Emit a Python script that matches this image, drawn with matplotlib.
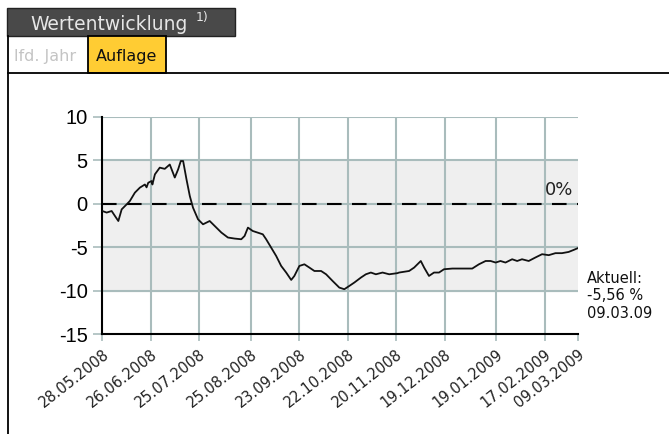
import numpy as np
import pandas as pd
import matplotlib
matplotlib.use("Agg")
import matplotlib.pyplot as plt
from matplotlib.patches import Rectangle

# performance since launch (%); x = days after 28.05.2008
start = pd.Timestamp("2008-05-28")
day_offsets = [0, 2.6, 5.6, 7.6, 9.6, 11.6, 14.6, 16.5, 19.5, 22.5, 25.5, 26.5, 27.5, 29.5, 30,
               31.5, 34.4, 37.4, 40.4, 43.4, 45.4, 47, 48.4, 50.4, 52.4, 54.3, 57.3, 60.3, 64.3,
               67.3, 71.3, 75.2, 79.2, 83.2, 85.2, 87.2, 90.1, 96.1, 98.1, 101.1, 104.1, 107.1,
               110.1, 113.1, 115, 118, 121, 124, 127, 131, 134, 137.9, 141.9, 144.9, 147.9, 150.9,
               154.9, 157.8, 160.8, 163.8, 167.8, 171.8, 176.7, 177.7, 183.7, 186.7, 190.7, 192.7,
               195.6, 198.6, 201.6, 204.6, 209.6, 215.5, 221.5, 225.5, 229.5, 232.5, 235.5, 238.4,
               241.4, 245.4, 248.4, 251.3, 255.3, 259.3, 263.3, 267.3, 271.3, 275.2, 279.2, 282.2, 285]
values = [-0.85, -1.03, -0.85, -1.43, -2.0, -0.66, -0.08, 0.3, 1.26, 1.84, 2.2, 1.87, 2.4, 2.6, 2.2,
          3.37, 4.14, 4.0, 4.5, 3.0, 3.94, 4.9, 4.9, 2.8, 0.87, -0.46, -1.8, -2.38, -2.0,
          -2.57, -3.33, -3.9, -4.02, -4.1, -3.72, -2.76, -3.15, -3.53, -4.1, -5.06, -6.02, -7.17,
          -7.93, -8.78, -8.32, -7.17, -6.98, -7.36, -7.75, -7.75, -8.13, -8.9, -9.66, -9.85, -9.47, -9.08,
          -8.5, -8.13, -7.93, -8.13, -7.93, -8.13, -8.0, -7.93, -7.75, -7.36, -6.6, -7.36,
          -8.32, -7.93, -7.93, -7.55, -7.47, -7.47, -7.47, -6.98, -6.6, -6.6, -6.78, -6.6,
          -6.78, -6.4, -6.6, -6.4, -6.6, -6.2, -5.82, -5.93, -5.7, -5.7, -5.56, -5.33, -5.1]
tick_dates = ["28.05.2008", "26.06.2008", "25.07.2008", "25.08.2008", "23.09.2008", "22.10.2008",
              "20.11.2008", "19.12.2008", "19.01.2009", "17.02.2009", "09.03.2009"]
y_ticks = [10, 5, 0, -5, -10, -15]
band = (-10, 5)

dates = [start + pd.Timedelta(days=d) for d in day_offsets]
ticks = [pd.to_datetime(t, format="%d.%m.%Y") for t in tick_dates]

W, H = 669, 434
grid_col = "#a9bcbc"
fig = plt.figure(figsize=(W / 100, H / 100), dpi=100)

# frame / tabs drawn in pixel coordinates
bg = fig.add_axes([0, 0, 1, 1])
bg.set_xlim(0, W)
bg.set_ylim(H, 0)
bg.axis("off")
bg.add_patch(Rectangle((7, 7.5), 228, 28.5, facecolor="#494949", edgecolor="#222222", lw=1))
bg.text(30, 24, "Wertentwicklung", color="#e6e6e6", fontsize=13.5, va="center", ha="left",
        family="DejaVu Sans")
bg.text(196, 17, "1)", color="#e6e6e6", fontsize=9, va="center", ha="left", family="DejaVu Sans")
bg.add_patch(Rectangle((88.3, 36), 77.7, 37.3, facecolor="#ffcc33", edgecolor="black", lw=1.3))
bg.text(14, 56, "lfd. Jahr", color="#c4c4c4", fontsize=11.5, va="center", ha="left",
        family="DejaVu Sans")
bg.text(96, 56, "Auflage", color="#111111", fontsize=11.5, va="center", ha="left",
        family="DejaVu Sans")
bg.plot([7.5, 7.5], [36, H], color="black", lw=1.3)
bg.plot([7.5, W], [73.3, 73.3], color="black", lw=1.3)

ax = fig.add_axes([102.3 / W, 1 - 334 / H, 476 / W, 217.3 / H])
ax.set_xlim(ticks[0], ticks[-1])
ax.set_ylim(-15, 10)
ax.axhspan(band[0], band[1], color="#efefef", zorder=0)
for t in ticks[1:-1]:
    ax.axvline(t, color=grid_col, lw=1.5, zorder=1)
for yv in y_ticks[:-1]:
    ax.axhline(yv, color=grid_col, lw=1.5, zorder=1)
ax.axhline(0, color="black", lw=1.5, dashes=(7, 5), zorder=2)
ax.plot(dates, values, color="#111111", lw=1.3, zorder=3)
ax.text(ticks[-1] - pd.Timedelta(days=3), 0.5, "0%", fontsize=13, ha="right", va="bottom",
        family="DejaVu Sans", color="#222222")

for side in ["top", "right"]:
    ax.spines[side].set_visible(False)
for side in ["left", "bottom"]:
    ax.spines[side].set_linewidth(1.5)
    ax.spines[side].set_color("black")

ax.set_yticks(y_ticks)
ax.set_yticklabels([str(v) for v in y_ticks], fontsize=14.5, family="Liberation Sans")
ax.set_xticks(ticks)
ax.set_xticklabels(tick_dates, fontsize=10.5, family="DejaVu Sans", rotation=38,
                   ha="right", rotation_mode="anchor", color="#222222")
ax.tick_params(axis="both", width=1.2, color=grid_col)
ax.tick_params(axis="y", length=6.5, pad=4)
ax.tick_params(axis="x", length=5, pad=4)

fig.text(587 / W, 1 - 271 / H, "Aktuell:\n-5,56 %\n09.03.09", fontsize=10.5, va="top",
         ha="left", family="DejaVu Sans", linespacing=1.2, color="#111111")

fig.savefig("out.png", dpi=100)
